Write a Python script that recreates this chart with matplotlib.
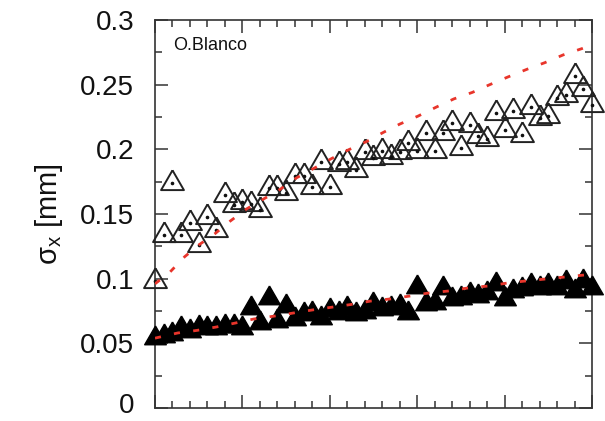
import numpy as np
import matplotlib
matplotlib.use("Agg")
import matplotlib.pyplot as plt
import matplotlib.transforms as mtransforms
from matplotlib.ticker import MultipleLocator, NullFormatter

plt.rcParams['font.family'] = ['Liberation Sans', 'DejaVu Sans']

# sample positions (51 samples, step 0.1)
x = np.arange(51) / 10.0

open_vals = [0.098, 0.134, 0.174, 0.134, 0.143, 0.126, 0.148, 0.138, 0.165, 0.157,
             0.159, 0.158, 0.153, 0.170, 0.170, 0.166, 0.179, 0.179, 0.171, 0.190,
             0.171, 0.189, 0.190, 0.184, 0.198, 0.193, 0.199, 0.194, 0.198, 0.205,
             0.199, 0.213, 0.199, 0.213, 0.220, 0.201, 0.219, 0.210, 0.208, 0.228,
             0.215, 0.230, 0.211, 0.233, 0.224, 0.226, 0.240, 0.242, 0.257, 0.247,
             0.234]

filled_vals = [0.054, 0.056, 0.057, 0.062, 0.0595, 0.0626, 0.062, 0.062, 0.0634, 0.0634,
               0.062, 0.0773, 0.0657, 0.085, 0.0673, 0.0788, 0.0688, 0.0727, 0.0734, 0.0696,
               0.0758, 0.0734, 0.0773, 0.0727, 0.0742, 0.0804, 0.0765, 0.0773, 0.0788, 0.0734,
               0.0935, 0.0804, 0.0812, 0.0928, 0.0843, 0.085, 0.0881, 0.0866, 0.0889, 0.0959,
               0.0843, 0.0904, 0.092, 0.0951, 0.0928, 0.0951, 0.0928, 0.0974, 0.0904, 0.0982,
               0.0928]

fit_open_x = [0.0, 0.17, 0.34, 0.50, 0.69, 0.86, 1.05, 1.24, 1.43, 1.62, 1.81, 2.01, 2.21,
              2.42, 2.61, 2.80, 3.01, 3.22, 3.42, 3.63, 3.83, 4.04, 4.26, 4.46, 4.67, 4.89, 5.0]
fit_open_y = [0.096, 0.105, 0.117, 0.126, 0.135, 0.1445, 0.154, 0.1615, 0.169, 0.178, 0.185,
              0.1925, 0.1995, 0.206, 0.213, 0.2195, 0.2257, 0.2327, 0.239, 0.244, 0.250,
              0.256, 0.262, 0.267, 0.273, 0.278, 0.281]

fit_filled_x = [0.0, 0.26, 0.48, 0.70, 0.92, 1.13, 1.36, 1.58, 1.80, 2.03, 2.24, 2.47, 2.69,
                2.92, 3.14, 3.35, 3.58, 3.81, 4.03, 4.24, 4.46, 4.69, 4.91, 5.0]
fit_filled_y = [0.054, 0.058, 0.060, 0.0626, 0.0657, 0.0688, 0.071, 0.0734, 0.0758, 0.078,
                0.080, 0.0827, 0.0843, 0.0866, 0.089, 0.0904, 0.0928, 0.0943, 0.0966, 0.0982,
                0.0997, 0.1013, 0.1028, 0.1035]

ytick_vals = [0, 0.05, 0.1, 0.15, 0.2, 0.25, 0.3]
ytick_labels = ['0', '0.05', '0.1', '0.15', '0.2', '0.25', '0.3']

fig = plt.figure(figsize=(6.05, 4.21), dpi=100)
ax = fig.add_axes([0.2562, 0.0309, 0.7223, 0.9216])

s3 = 1 / np.sqrt(3)
tri = [(0, 2 / 3), (-s3, -1 / 3), (s3, -1 / 3), (0, 2 / 3)]

ax.plot(x, open_vals, linestyle='none', marker=tri, markersize=19,
        markerfacecolor='none', markeredgecolor='#222222', markeredgewidth=1.4,
        clip_on=False, zorder=3)
ax.plot(x, open_vals, linestyle='none', marker='o', markersize=1.6,
        color='#111111', clip_on=False, zorder=3)
ax.plot(x, filled_vals, linestyle='none', marker=tri, markersize=18,
        markerfacecolor='black', markeredgecolor='black', markeredgewidth=1.0,
        clip_on=False, zorder=3)

red = '#e8352b'
ax.plot(fit_open_x, fit_open_y, color=red, linewidth=2.0, dashes=(2.2, 4.8), zorder=4)
ax.plot(fit_filled_x, fit_filled_y, color=red, linewidth=2.0, dashes=(2.2, 4.8), zorder=4)

ax.set_xlim(0, 5)
ax.set_ylim(0, 0.3)
ax.xaxis.set_major_locator(MultipleLocator(1))
ax.xaxis.set_minor_locator(MultipleLocator(0.2))
ax.xaxis.set_major_formatter(NullFormatter())
ax.yaxis.set_minor_locator(MultipleLocator(0.025))
ax.set_yticks(ytick_vals)
ax.set_yticklabels(ytick_labels)

ax.tick_params(which='both', direction='in', top=True, right=True,
               width=1.1, color='#333333')
ax.tick_params(which='major', length=9.5)
ax.tick_params(which='minor', length=5)
ax.tick_params(axis='y', labelsize=20, pad=15, labelcolor='#111111')
for sp in ax.spines.values():
    sp.set_linewidth(1.2)
    sp.set_color('#333333')

# nudge the bottom "0" label slightly up so it stays inside the figure
lab0 = ax.get_yticklabels()[0]
lab0.set_transform(lab0.get_transform() +
                   mtransforms.ScaledTranslation(0, 3.5 / 72, fig.dpi_scale_trans))

ax.set_ylabel('σ$_\\mathregular{x}$ [mm]', fontsize=21, labelpad=11, color='#111111')

ax.text(0.041, 0.923, 'O.Blanco', transform=ax.transAxes, fontsize=13,
        color='#111111', va='baseline', ha='left')

fig.savefig('out.png', dpi=100)
